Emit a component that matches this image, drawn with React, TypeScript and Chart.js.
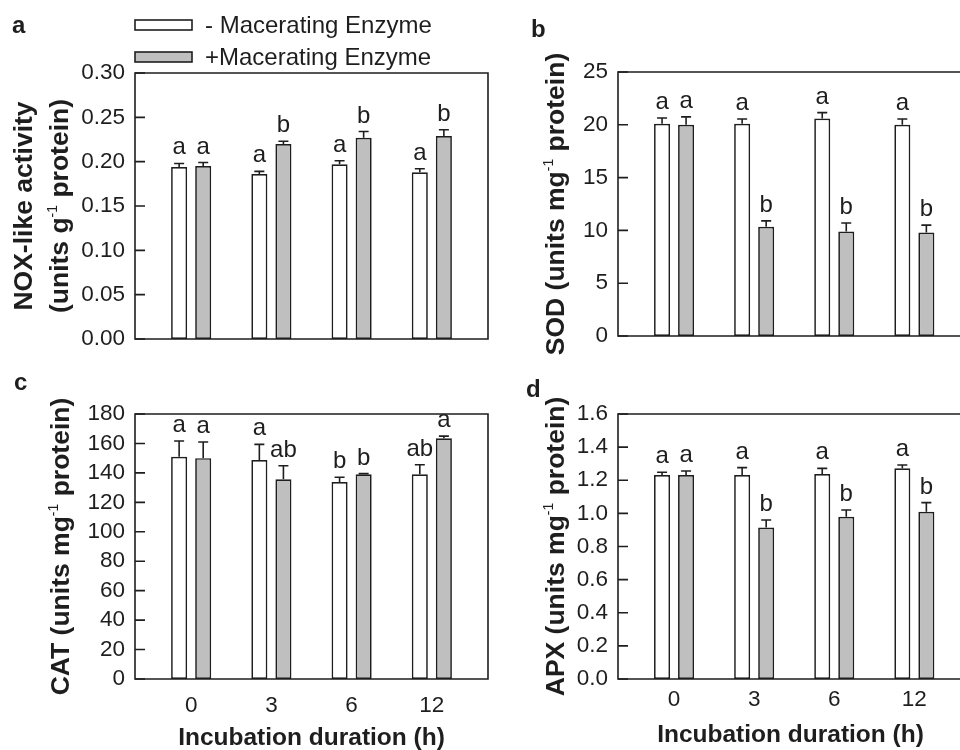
import React, { useEffect, useRef } from "react";
import { Chart, registerables } from "chart.js";

Chart.register(...registerables);

const FONT = '"Liberation Sans", Arial, Helvetica, sans-serif';
const INK = "#1e1e1e";
const GRAY = "#bfbfbf";

// ---------- data ----------
const categories = ["0", "3", "6", "12"];
const seriesLabels = ["- Macerating Enzyme", "+Macerating Enzyme"];
const xTitle = "Incubation duration (h)";

// a: NOX-like activity
const noxMinus = [0.194, 0.186, 0.197, 0.188];
const noxMinusErr = [0.004, 0.003, 0.004, 0.004];
const noxMinusLetters = ["a", "a", "a", "a"];
const noxPlus = [0.195, 0.22, 0.227, 0.229];
const noxPlusErr = [0.004, 0.003, 0.007, 0.007];
const noxPlusLetters = ["a", "b", "b", "b"];
const noxTicks = [0, 0.05, 0.1, 0.15, 0.2, 0.25, 0.3];

// b: SOD
const sodMinus = [20.1, 20.1, 20.6, 20.0];
const sodMinusErr = [0.55, 0.45, 0.55, 0.55];
const sodMinusLetters = ["a", "a", "a", "a"];
const sodPlus = [20.0, 10.35, 9.9, 9.8];
const sodPlusErr = [0.75, 0.55, 0.8, 0.7];
const sodPlusLetters = ["a", "b", "b", "b"];
const sodTicks = [0, 5, 10, 15, 20, 25];

// c: CAT
const catMinus = [151, 148.8, 133.8, 139];
const catMinusErr = [10.7, 10.6, 3.2, 6.5];
const catMinusLetters = ["a", "a", "b", "ab"];
const catPlus = [150, 135.7, 139, 163.5];
const catPlusErr = [11, 9.2, 0.5, 1.5];
const catPlusLetters = ["a", "ab", "b", "a"];
const catTicks = [0, 20, 40, 60, 80, 100, 120, 140, 160, 180];

// d: APX
const apxMinus = [1.232, 1.232, 1.238, 1.272];
const apxMinusErr = [0.016, 0.044, 0.034, 0.02];
const apxMinusLetters = ["a", "a", "a", "a"];
const apxPlus = [1.232, 0.914, 0.98, 1.01];
const apxPlusErr = [0.024, 0.046, 0.04, 0.055];
const apxPlusLetters = ["a", "b", "b", "b"];
const apxTicks = [0, 0.2, 0.4, 0.6, 0.8, 1.0, 1.2, 1.4, 1.6];

// ---------- panel definitions ----------
type Seg = { t: string; sup?: boolean };

interface PanelDef {
  letter: string;
  letterAt: [number, number];
  minus: number[];
  minusErr: number[];
  minusLetters: string[];
  plus: number[];
  plusErr: number[];
  plusLetters: string[];
  yTicks: number[];
  decimals: number;
  yTitle: Seg[][];
  yTitleX: number[];
  area: { left: number; top: number; right: number; bottom: number };
  xMax: number;
  showX: boolean;
  xLabelPad: number;
  xTitleAt?: [number, number];
  rightBorder: boolean;
  legend: boolean;
}

const panels: PanelDef[] = [
  {
    letter: "a",
    letterAt: [12, 33],
    minus: noxMinus,
    minusErr: noxMinusErr,
    minusLetters: noxMinusLetters,
    plus: noxPlus,
    plusErr: noxPlusErr,
    plusLetters: noxPlusLetters,
    yTicks: noxTicks,
    decimals: 2,
    yTitle: [
      [{ t: "NOX-like activity" }],
      [{ t: "(units g" }, { t: "-1", sup: true }, { t: " protein)" }],
    ],
    yTitleX: [25, 61],
    area: { left: 135, top: 73, right: 488, bottom: 339 },
    xMax: 3.7,
    showX: false,
    xLabelPad: 0,
    rightBorder: true,
    legend: true,
  },
  {
    letter: "b",
    letterAt: [531, 37],
    minus: sodMinus,
    minusErr: sodMinusErr,
    minusLetters: sodMinusLetters,
    plus: sodPlus,
    plusErr: sodPlusErr,
    plusLetters: sodPlusLetters,
    yTicks: sodTicks,
    decimals: 0,
    yTitle: [[{ t: "SOD (units mg" }, { t: "-1", sup: true }, { t: " protein)" }]],
    yTitleX: [557.5],
    area: { left: 618, top: 72, right: 960, bottom: 336 },
    xMax: 3.57,
    showX: false,
    xLabelPad: 0,
    rightBorder: false,
    legend: false,
  },
  {
    letter: "c",
    letterAt: [14, 390],
    minus: catMinus,
    minusErr: catMinusErr,
    minusLetters: catMinusLetters,
    plus: catPlus,
    plusErr: catPlusErr,
    plusLetters: catPlusLetters,
    yTicks: catTicks,
    decimals: 0,
    yTitle: [[{ t: "CAT (units mg" }, { t: "-1", sup: true }, { t: " protein)" }]],
    yTitleX: [62],
    area: { left: 135, top: 414, right: 488, bottom: 679 },
    xMax: 3.7,
    showX: true,
    xLabelPad: 13,
    xTitleAt: [311.5, 745],
    rightBorder: true,
    legend: false,
  },
  {
    letter: "d",
    letterAt: [526, 397],
    minus: apxMinus,
    minusErr: apxMinusErr,
    minusLetters: apxMinusLetters,
    plus: apxPlus,
    plusErr: apxPlusErr,
    plusLetters: apxPlusLetters,
    yTicks: apxTicks,
    decimals: 1,
    yTitle: [[{ t: "APX (units mg" }, { t: "-1", sup: true }, { t: " protein)" }]],
    yTitleX: [557],
    area: { left: 618, top: 414, right: 960, bottom: 679 },
    xMax: 3.57,
    showX: true,
    xLabelPad: 7,
    xTitleAt: [790.5, 742],
    rightBorder: false,
    legend: false,
  },
];

const TITLE_SIZE = 26.5;
const TITLE_FONT = `bold ${TITLE_SIZE}px ${FONT}`;
const SUP_FONT = `14px ${FONT}`;
const LETTER_FONT = `24px ${FONT}`;
const PANEL_FONT = `bold 24px ${FONT}`;
const XTITLE_FONT = `bold 24.5px ${FONT}`;
const LEGEND_FONT = `24px ${FONT}`;

function drawRotatedTitle(ctx: CanvasRenderingContext2D, lines: Seg[][], xs: number[], cy: number) {
  lines.forEach((segs, li) => {
    const widths = segs.map((s) => {
      ctx.font = s.sup ? SUP_FONT : TITLE_FONT;
      return ctx.measureText(s.t).width;
    });
    const total = widths.reduce((a, b) => a + b, 0);
    ctx.save();
    ctx.translate(xs[li], cy);
    ctx.rotate(-Math.PI / 2);
    ctx.textAlign = "left";
    ctx.textBaseline = "alphabetic";
    const base = 0.26 * TITLE_SIZE;
    let x = -total / 2;
    segs.forEach((s, i) => {
      ctx.font = s.sup ? SUP_FONT : TITLE_FONT;
      ctx.fillText(s.t, x, s.sup ? base - 11 : base);
      x += widths[i];
    });
    ctx.restore();
  });
}

const decorPlugin = {
  id: "decor",
  afterDatasetsDraw(chart: any, _args: any, opts: any) {
    const p: PanelDef = opts.panel;
    const ctx: CanvasRenderingContext2D = chart.ctx;
    const ca = chart.chartArea;
    const yScale = chart.scales.y;
    ctx.save();
    ctx.fillStyle = INK;
    ctx.strokeStyle = INK;

    // error bars and significance letters
    chart.data.datasets.forEach((ds: any, di: number) => {
      const meta = chart.getDatasetMeta(di);
      const errs = di === 0 ? p.minusErr : p.plusErr;
      const lets = di === 0 ? p.minusLetters : p.plusLetters;
      meta.data.forEach((el: any, j: number) => {
        const v = ds.data[j].y;
        const top = yScale.getPixelForValue(v + errs[j]);
        const x = el.x;
        ctx.lineWidth = 1.6;
        ctx.beginPath();
        ctx.moveTo(x, el.y);
        ctx.lineTo(x, top);
        ctx.moveTo(x - 5, top);
        ctx.lineTo(x + 5, top);
        ctx.stroke();
        ctx.font = LETTER_FONT;
        ctx.textAlign = "center";
        ctx.textBaseline = "alphabetic";
        ctx.fillText(lets[j], x, top - 9);
      });
    });

    // frame
    ctx.lineWidth = 1.6;
    ctx.beginPath();
    if (p.rightBorder) {
      ctx.rect(ca.left, ca.top, ca.right - ca.left, ca.bottom - ca.top);
    } else {
      ctx.moveTo(ca.right + 2, ca.top);
      ctx.lineTo(ca.left, ca.top);
      ctx.lineTo(ca.left, ca.bottom);
      ctx.lineTo(ca.right + 2, ca.bottom);
    }
    ctx.stroke();

    // inward y ticks
    ctx.beginPath();
    yScale.ticks.forEach((t: any) => {
      const y = yScale.getPixelForValue(t.value);
      ctx.moveTo(ca.left, y);
      ctx.lineTo(ca.left + 10, y);
    });
    ctx.stroke();

    // y title
    drawRotatedTitle(ctx, p.yTitle, p.yTitleX, (ca.top + ca.bottom) / 2);

    // x title
    if (p.xTitleAt) {
      ctx.font = XTITLE_FONT;
      ctx.textAlign = "center";
      ctx.textBaseline = "alphabetic";
      ctx.fillText(xTitle, p.xTitleAt[0], p.xTitleAt[1]);
    }

    // panel letter
    ctx.font = PANEL_FONT;
    ctx.textAlign = "left";
    ctx.textBaseline = "alphabetic";
    ctx.fillText(p.letter, p.letterAt[0], p.letterAt[1]);

    // legend
    if (p.legend) {
      const rows = [25, 57];
      chart.data.datasets.forEach((ds: any, i: number) => {
        const cy = rows[i];
        ctx.fillStyle = ds.backgroundColor;
        ctx.fillRect(ca.left, cy - 5, 57, 10);
        ctx.lineWidth = 1.6;
        ctx.strokeStyle = INK;
        ctx.strokeRect(ca.left, cy - 5, 57, 10);
        ctx.fillStyle = INK;
        ctx.font = LEGEND_FONT;
        ctx.textAlign = "left";
        ctx.textBaseline = "middle";
        ctx.fillText(ds.label, ca.left + 70, cy + 1);
      });
    }
    ctx.restore();
  },
};

const Y_AXIS_W = 120;

function makeConfig(p: PanelDef): any {
  const xAxisH = p.showX ? 40 : 0;
  const tickFont = { family: FONT, size: 22.5, lineHeight: 1.2 };
  return {
    type: "bar",
    data: {
      datasets: [
        {
          label: seriesLabels[0],
          data: p.minus.map((y, i) => ({ x: i, y })),
          backgroundColor: "#ffffff",
          borderColor: INK,
          borderWidth: 1.7,
          borderSkipped: false,
          categoryPercentage: 0.6,
          barPercentage: 0.667,
        },
        {
          label: seriesLabels[1],
          data: p.plus.map((y, i) => ({ x: i, y })),
          backgroundColor: GRAY,
          borderColor: INK,
          borderWidth: 1.7,
          borderSkipped: false,
          categoryPercentage: 0.6,
          barPercentage: 0.667,
        },
      ],
    },
    options: {
      animation: false,
      responsive: false,
      events: [],
      layout: {
        padding: {
          left: p.area.left - Y_AXIS_W,
          top: p.area.top,
          right: 960 - p.area.right,
          bottom: 750 - p.area.bottom - xAxisH,
        },
      },
      plugins: {
        legend: { display: false },
        tooltip: { enabled: false },
        decor: { panel: p },
      },
      scales: {
        x: {
          type: "linear",
          offset: false,
          min: -0.7,
          max: p.xMax,
          afterBuildTicks: (s: any) => {
            s.ticks = categories.map((_, i) => ({ value: i }));
          },
          afterFit: (s: any) => {
            s.height = xAxisH;
          },
          grid: { display: false, drawTicks: false, offset: false },
          border: { display: false },
          ticks: {
            display: p.showX,
            autoSkip: false,
            maxRotation: 0,
            padding: p.xLabelPad,
            color: INK,
            font: tickFont,
            callback: (v: any) => categories[Math.round(Number(v))] ?? "",
          },
        },
        y: {
          type: "linear",
          min: 0,
          max: p.yTicks[p.yTicks.length - 1],
          afterBuildTicks: (s: any) => {
            s.ticks = p.yTicks.map((v) => ({ value: v }));
          },
          afterFit: (s: any) => {
            s.width = Y_AXIS_W;
          },
          grid: { display: false, drawTicks: false },
          border: { display: false },
          ticks: {
            autoSkip: false,
            padding: 10,
            color: INK,
            font: tickFont,
            callback: (v: any) => Number(v).toFixed(p.decimals),
          },
        },
      },
    },
    plugins: [decorPlugin],
  };
}

function PanelChart({ p }: { p: PanelDef }) {
  const ref = useRef<HTMLCanvasElement | null>(null);
  useEffect(() => {
    if (!ref.current) return;
    const chart = new Chart(ref.current, makeConfig(p));
    return () => chart.destroy();
  }, [p]);
  return (
    <canvas
      ref={ref}
      width={960}
      height={750}
      style={{ position: "absolute", left: 0, top: 0, width: 960, height: 750 }}
    />
  );
}

export default function App() {
  return (
    <div
      style={{
        position: "fixed",
        left: 0,
        top: 0,
        width: 960,
        height: 750,
        overflow: "hidden",
        background: "#ffffff",
      }}
    >
      {panels.map((p, i) => (
        <PanelChart key={i} p={p} />
      ))}
    </div>
  );
}
